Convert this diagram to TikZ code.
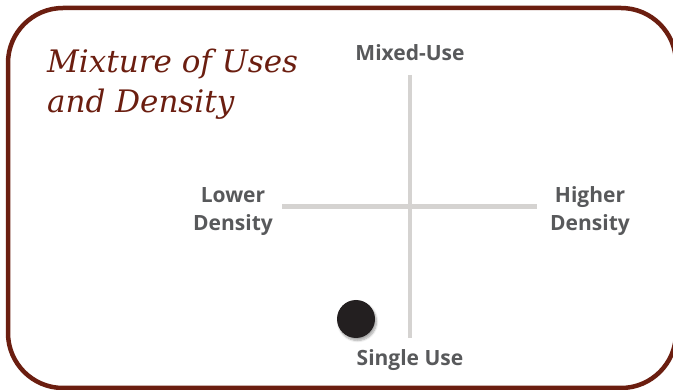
\documentclass[tikz,border=0pt]{standalone}
\usepackage{fontspec}
\setmainfont{DejaVu Serif}
\newfontfamily\labelfont{Open Sans}
\usetikzlibrary{shadows.blur}
\definecolor{brownred}{HTML}{6B1E10}
\definecolor{labelgray}{HTML}{58595B}
\definecolor{axisgray}{HTML}{D5D3D1}
\definecolor{dotblack}{HTML}{231F20}
\begin{document}
\begin{tikzpicture}[x=1pt,y=-1pt,
  axislabel/.style={font=\labelfont\bfseries\fontsize{21}{28}\selectfont, text=labelgray, align=center, inner sep=0pt},
  axisline/.style={draw=axisgray, line width=4.5pt},
  titletext/.style={font=\itshape\fontsize{31}{40}\selectfont, text=brownred, inner sep=0pt, anchor=base west}]
\useasboundingbox (0,0) rectangle (673,390);
\begin{scope}
\clip (0,0) rectangle (673,390);
\draw[brownred, line width=4.5pt, rounded corners=55pt] (8,8) rectangle (676,388);
\end{scope}
\node[titletext] (title1) at (47,73) {Mixture of Uses};
\node[titletext] (title2) at (47,113) {and Density};
\node[axislabel, anchor=base] (top) at (410,61) {Mixed-Use};
\node[axislabel, anchor=base] (bottom) at (410,366) {Single Use};
\node[axislabel] (left) at (233,211.5) {Lower\\Density};
\node[axislabel] (right) at (590,211.5) {Higher\\Density};
\coordinate (vtop) at (410,75);
\coordinate (vbot) at (410,338);
\coordinate (hl) at (282,206.5);
\coordinate (hr) at (537,206.5);
\draw[axisline] (vtop) -- (vbot);
\draw[axisline] (hl) -- (hr);
\node[circle, fill=dotblack, minimum size=38pt, inner sep=0pt,
  blur shadow={shadow xshift=1.5pt, shadow yshift=-2.5pt, shadow blur steps=6, shadow opacity=35}] (dot) at (356,319) {};
\end{tikzpicture}
\end{document}
